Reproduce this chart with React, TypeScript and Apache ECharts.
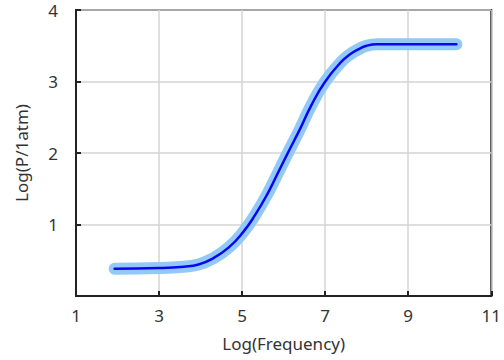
import React, { useEffect, useRef } from "react";
import * as echarts from "echarts";

// Data
const LOG_FREQUENCY = [1.93, 3.0, 3.6, 3.95, 4.28, 4.68, 5.02, 5.31, 5.63, 5.87, 6.11, 6.39, 6.66, 6.99, 7.38, 7.6, 7.8, 8.0, 8.25, 9.0, 10.16];
const LOG_PRESSURE = [0.38, 0.39, 0.41, 0.44, 0.52, 0.68, 0.89, 1.13, 1.45, 1.73, 2.01, 2.33, 2.66, 2.99, 3.27, 3.38, 3.45, 3.5, 3.52, 3.52, 3.52];
const X_MIN = 1;
const X_MAX = 11;
const X_STEP = 2;
const Y_MIN = 0;
const Y_MAX = 4;
const Y_STEP = 1;
const X_NAME = "Log(Frequency)";
const Y_NAME = "Log(P/1atm)";

export default function App() {
  const ref = useRef<HTMLDivElement>(null);
  useEffect(() => {
    if (!ref.current) return;
    const chart = echarts.init(ref.current, undefined, { renderer: "svg" });
    // x axis counted from 0 so ticks fall on 1,3,5,...; labels shifted back
    const points = LOG_FREQUENCY.map((x, i) => [x - X_MIN, LOG_PRESSURE[i]]);
    const font = "Noto Sans";
    const size = 17;
    chart.setOption({
      animation: false,
      backgroundColor: "#ffffff",
      grid: {
        left: 76,
        top: 10,
        width: 419,
        height: 286,
        show: true,
        borderColor: "#222",
        borderWidth: 2,
        backgroundColor: "transparent",
      },
      xAxis: {
        type: "value",
        min: 0,
        max: X_MAX - X_MIN,
        interval: X_STEP,
        name: X_NAME,
        nameLocation: "middle",
        nameGap: 39,
        nameTextStyle: { fontFamily: font, fontSize: size, color: "#333" },
        axisLine: { show: true, lineStyle: { color: "#222", width: 2 } },
        axisTick: { show: true, inside: true, length: 5, lineStyle: { color: "#222", width: 2 } },
        axisLabel: {
          margin: 11,
          fontFamily: font,
          fontSize: size,
          color: "#333",
          formatter: (v: number) => String(v + X_MIN),
        },
        splitLine: { show: true, lineStyle: { color: "#d4d4d4", width: 1.5 } },
      },
      yAxis: {
        type: "value",
        min: Y_MIN,
        max: Y_MAX,
        interval: Y_STEP,
        name: Y_NAME,
        nameLocation: "middle",
        nameGap: 46,
        nameTextStyle: { fontFamily: font, fontSize: size, color: "#333" },
        axisLine: { show: true, lineStyle: { color: "#222", width: 2 } },
        axisTick: { show: true, inside: true, length: 5, lineStyle: { color: "#222", width: 2 } },
        axisLabel: {
          margin: 18,
          fontFamily: font,
          fontSize: size,
          color: "#333",
          showMinLabel: false,
        },
        splitLine: { show: true, lineStyle: { color: "#d4d4d4", width: 1.5 } },
      },
      series: [
        {
          type: "line",
          data: points,
          smooth: 0.5,
          showSymbol: false,
          lineStyle: { color: "#92c9f9", width: 12, cap: "round", join: "round" },
          z: 2,
        },
        {
          type: "line",
          data: points,
          smooth: 0.5,
          showSymbol: false,
          lineStyle: { color: "#0808f0", width: 2.5, cap: "round", join: "round" },
          z: 3,
        },
      ],
    });
    return () => chart.dispose();
  }, []);
  return <div ref={ref} style={{ width: 504, height: 360, position: "absolute", left: 0, top: 0 }} />;
}
